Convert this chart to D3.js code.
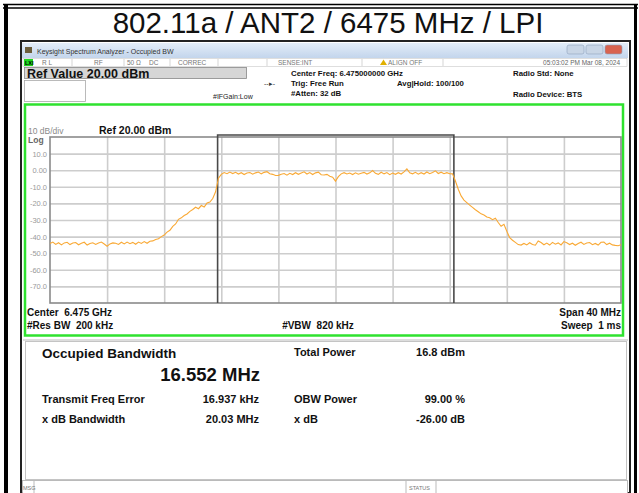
<!DOCTYPE html>
<html>
<head>
<meta charset="utf-8">
<script src="https://cdn.jsdelivr.net/npm/d3@7"></script>
<style>
  html, body { margin: 0; padding: 0; background: #fff; }
  svg { display: block; font-family: "Liberation Sans", Arial, sans-serif; }
</style>
</head>
<body>
<svg id="chart"></svg>
<script>
const width = 639;
const height = 493;

// sweep settings
const centerMHz = 6475;
const spanMHz = 40;
const stepMHz = 0.2;
const refLevel = 20;
const dbPerDiv = 10;

// trace, dBm, one point per 0.2 MHz from 6455 to 6495 MHz
const lowerBand = [
  -44.2, -43.3, -44.7, -43.7, -45.0, -43.8, -43.4, -44.8, -43.9, -43.6,
  -44.9, -44.0, -43.4, -45.1, -44.1, -43.7, -44.7, -43.8, -43.3, -44.5,
  -45.8, -44.4, -43.8, -44.0, -44.7, -43.4, -44.4, -43.3, -44.3, -43.5,
  -44.6, -43.3, -44.1, -43.0, -44.0, -42.8, -42.6, -41.7, -41.3, -40.0,
  -39.1, -37.3, -36.2, -33.8, -32.4, -29.6, -28.7, -27.3, -26.4, -24.8,
  -23.7, -22.3, -23.2, -21.3, -22.2, -19.8, -19.2, -17.1, -13.0, -4.8
];
const inBand = [
  -2.5, -1.4, -2.1, -1.1, -2.0, -1.3, -2.3, -1.5, -2.6, -1.7,
  -1.4, -2.4, -1.6, -1.1, -2.2, -1.3, -0.9, -2.1, -2.5, -3.2,
  -3.1, -2.4, -2.0, -3.0, -1.9, -2.6, -1.5, -2.5, -1.7, -1.0,
  -2.3, -1.4, -2.6, -1.6, -1.2, -2.7, -2.9, -2.5, -3.6, -4.2,
  -6.6, -3.9, -2.2, -1.5, -2.3, -1.7, -2.6, -1.6, -2.4, -1.8,
  -1.3, -2.3, -1.6, -0.2, -1.9, -2.5, -1.2, -2.2, -1.4, -2.7,
  -1.7, -2.5, -1.5, -2.3, -1.0, 0.8, -1.6, -2.2, -1.3, -2.4,
  -1.5, -2.3, -1.1, -2.1, -1.4, -0.4, -2.0, -1.2, -2.1, -1.5, -2.1
];
const upperBand = [
  -2.2, -6.5, -11.5, -15.5, -18.0, -19.5, -21.0, -22.4, -23.8, -25.0,
  -26.3, -27.0, -28.2, -28.6, -29.8, -28.9, -31.5, -33.8, -32.6, -36.8,
  -40.6, -42.2, -43.5, -44.8, -45.1, -44.1, -45.0, -43.7, -44.8, -45.2,
  -42.6, -43.6, -44.9, -43.9, -45.1, -43.5, -44.6, -43.8, -45.0, -43.0,
  -43.7, -44.8, -44.0, -45.2, -44.2, -43.4, -44.7, -43.9, -43.6, -44.9,
  -44.1, -45.1, -43.4, -43.3, -44.8, -44.0, -45.0, -45.3, -45.5, -44.9
];

const yTickValues = [10, 0, -10, -20, -30, -40, -50, -60, -70];
const yTickLabels = ['10.0', '0.00', '-10.0', '-20.0', '-30.0', '-40.0', '-50.0', '-60.0', '-70.0'];

// measurement results
const obwMHz = 16.552;
const freqErrorKHz = 16.937;
const results = [
  ['Transmit Freq Error', '16.937 kHz', 'OBW Power', '99.00 %'],
  ['x dB Bandwidth', '20.03 MHz', 'x dB', '-26.00 dB']
];

const statusCells = [
  ['R L', 42], ['RF', 94], ['50 Ω', 127], ['DC', 149], ['CORREC', 178], ['SENSE:INT', 278]
];
const statusSeps = [72, 124, 170, 218, 267, 362, 443];

const svg = d3.select('#chart').attr('width', width).attr('height', height);

// page frame
svg.append('rect').attr('width', width).attr('height', height).attr('fill', '#fff');
svg.append('line').attr('x1', 3).attr('x2', 638).attr('y1', 4.5).attr('y2', 4.5).attr('stroke', '#000').attr('stroke-width', 1.5);
svg.append('line').attr('x1', 3).attr('x2', 638).attr('y1', 8).attr('y2', 8).attr('stroke', '#000').attr('stroke-width', 1.5);
svg.append('rect').attr('x', 4).attr('y', 4).attr('width', 4).attr('height', height).attr('fill', '#000');
svg.append('rect').attr('x', 634).attr('y', 4).attr('width', 3).attr('height', height).attr('fill', '#000');

svg.append('text')
  .attr('x', 328).attr('y', 33)
  .attr('text-anchor', 'middle')
  .attr('font-size', 29.5)
  .attr('fill', '#111')
  .text('802.11a / ANT2 / 6475 MHz / LPI');

// analyzer window
const win = svg.append('g');
win.append('rect').attr('x', 21).attr('y', 41).attr('width', 609).attr('height', 452).attr('fill', '#fff').attr('stroke', '#222').attr('stroke-width', 2);

const grad = svg.append('defs').append('linearGradient').attr('id', 'tb').attr('x1', 0).attr('x2', 0).attr('y1', 0).attr('y2', 1);
grad.append('stop').attr('offset', 0).attr('stop-color', '#e3edf8');
grad.append('stop').attr('offset', 1).attr('stop-color', '#c3d5ec');
win.append('rect').attr('x', 22).attr('y', 43).attr('width', 606).attr('height', 15).attr('fill', 'url(#tb)');
win.append('rect').attr('x', 25).attr('y', 47).attr('width', 7).attr('height', 6).attr('fill', '#6b5d3a');
win.append('text').attr('x', 37).attr('y', 54).attr('font-size', 7).attr('fill', '#333').text('Keysight Spectrum Analyzer - Occupied BW');
[[567, '#c9d6e6'], [586, '#c9d6e6'], [605, '#d9634f']].forEach(([bx, c]) => {
  win.append('rect').attr('x', bx).attr('y', 45).attr('width', 17).attr('height', 9).attr('rx', 2)
    .attr('fill', c).attr('stroke', '#8ea2bd').attr('stroke-width', 0.6);
});

// status row
win.append('rect').attr('x', 23).attr('y', 58.5).attr('width', 604).attr('height', 8).attr('fill', '#fff').attr('stroke', '#c8c8c8').attr('stroke-width', 0.6);
win.append('rect').attr('x', 24).attr('y', 59).attr('width', 9).attr('height', 7).attr('fill', '#1fd81f');
win.append('text').attr('x', 25).attr('y', 65).attr('font-size', 5.5).attr('font-weight', 'bold').attr('fill', '#000').text('LXI');
statusSeps.forEach(sx => win.append('line').attr('x1', sx).attr('x2', sx).attr('y1', 59).attr('y2', 66).attr('stroke', '#bbb').attr('stroke-width', 0.6));
statusCells.forEach(([t, sx]) => win.append('text').attr('x', sx).attr('y', 65).attr('font-size', 6.5).attr('fill', '#777').text(t));
win.append('path').attr('d', 'M380,65 L383.5,59.5 L387,65 Z').attr('fill', '#e0b000');
win.append('text').attr('x', 388).attr('y', 65).attr('font-size', 6.5).attr('fill', '#777').text('ALIGN OFF');
win.append('text').attr('x', 620).attr('y', 65).attr('text-anchor', 'end').attr('font-size', 6.5).attr('fill', '#666').text('05:03:02 PM Mar 08, 2024');

// settings area
win.append('rect').attr('x', 24.5).attr('y', 67.5).attr('width', 222).attr('height', 11).attr('fill', '#d6d6d6').attr('stroke', '#888').attr('stroke-width', 0.8);
win.append('text').attr('x', 27).attr('y', 77.5).attr('font-size', 12.5).attr('font-weight', 'bold').attr('fill', '#111').text('Ref Value 20.00 dBm');
win.append('rect').attr('x', 24.5).attr('y', 80.5).attr('width', 61).attr('height', 21).attr('fill', '#fff').attr('stroke', '#aaa').attr('stroke-width', 0.8);
win.append('text').attr('x', 213).attr('y', 99).attr('font-size', 7).attr('fill', '#222').text('#IFGain:Low');
win.append('text').attr('x', 264).attr('y', 86).attr('font-size', 7).attr('fill', '#333').text('--\u25B8-');

const hdr = [
  ['Center Freq: 6.475000000 GHz', 291, 76],
  ['Trig: Free Run', 291, 86],
  ['#Atten: 32 dB', 291, 96],
  ['Avg|Hold: 100/100', 397, 86],
  ['Radio Std: None', 513, 76],
  ['Radio Device: BTS', 513, 97]
];
hdr.forEach(([t, hx, hy]) => win.append('text').attr('x', hx).attr('y', hy).attr('font-size', 7.8).attr('font-weight', 'bold').attr('fill', '#111').text(t));

// graph frame
win.append('rect').attr('x', 25).attr('y', 104.5).attr('width', 598).attr('height', 231).attr('fill', '#fff').attr('stroke', '#2fe22f').attr('stroke-width', 2.5);

const plotLeft = 50, plotRight = 621, plotTop = 137, plotBottom = 303;
const x = d3.scaleLinear().domain([centerMHz - spanMHz / 2, centerMHz + spanMHz / 2]).range([plotLeft, plotRight]);
const y = d3.scaleLinear().domain([refLevel - 10 * dbPerDiv, refLevel]).range([plotBottom, plotTop]);

const xGrid = d3.range(1, 10).map(i => centerMHz - spanMHz / 2 + i * spanMHz / 10);

const plot = win.append('g');
plot.append('g')
  .attr('transform', `translate(${plotLeft},0)`)
  .call(d3.axisLeft(y).tickValues(yTickValues).tickFormat((d, i) => yTickLabels[i]).tickSize(-(plotRight - plotLeft)).tickPadding(3))
  .call(g => g.select('.domain').remove())
  .call(g => g.selectAll('.tick line').attr('stroke', '#cdcdcd').attr('stroke-width', 1.6))
  .call(g => g.selectAll('.tick text').attr('fill', '#9a9a9a').attr('font-size', 7.5).attr('font-family', '"Liberation Sans", Arial, sans-serif'));

plot.append('g')
  .attr('transform', `translate(0,${plotBottom})`)
  .call(d3.axisBottom(x).tickValues(xGrid).tickFormat('').tickSize(-(plotBottom - plotTop)))
  .call(g => g.select('.domain').remove())
  .call(g => g.selectAll('.tick line').attr('stroke', '#cdcdcd').attr('stroke-width', 1.6));

plot.append('rect')
  .attr('x', plotLeft).attr('y', plotTop).attr('width', plotRight - plotLeft).attr('height', plotBottom - plotTop)
  .attr('fill', 'none').attr('stroke', '#8a8a8a').attr('stroke-width', 1.6);

// OBW markers
const obwCenter = centerMHz + freqErrorKHz / 1000;
const obwL = x(obwCenter - obwMHz / 2), obwR = x(obwCenter + obwMHz / 2);
plot.append('path')
  .attr('d', `M${obwL},${plotBottom} V${plotTop - 2} H${obwR} V${plotBottom}`)
  .attr('fill', 'none').attr('stroke', '#4a4a4a').attr('stroke-width', 1.6);

// trace
const levels = lowerBand.concat(inBand, upperBand);
const trace = levels.map((v, i) => ({ f: centerMHz - spanMHz / 2 + i * stepMHz, v: v }));
plot.append('path')
  .datum(trace)
  .attr('fill', 'none')
  .attr('stroke', '#f9a935')
  .attr('stroke-width', 1.1)
  .attr('d', d3.line().x(d => x(d.f)).y(d => y(d.v)));

// graph labels
win.append('text').attr('x', 28).attr('y', 134).attr('font-size', 8.5).attr('fill', '#8a8a8a').text('10 dB/div');
win.append('text').attr('x', 28).attr('y', 143).attr('font-size', 8.5).attr('font-weight', 'bold').attr('fill', '#666').text('Log');
win.append('text').attr('x', 99).attr('y', 134).attr('font-size', 10.5).attr('font-weight', 'bold').attr('fill', '#111').text('Ref 20.00 dBm');

const foot = [
  ['Center  6.475 GHz', 27, 316, 'start'],
  ['#Res BW  200 kHz', 27, 329, 'start'],
  ['#VBW  820 kHz', 318, 329, 'middle'],
  ['Span 40 MHz', 621, 316, 'end'],
  ['Sweep  1 ms', 621, 329, 'end']
];
foot.forEach(([t, fx, fy, a]) => win.append('text').attr('x', fx).attr('y', fy).attr('text-anchor', a)
  .attr('font-size', 10).attr('font-weight', 'bold').attr('fill', '#111').attr('xml:space', 'preserve').text(t));

// results panel
win.append('line').attr('x1', 23).attr('x2', 628).attr('y1', 340).attr('y2', 340).attr('stroke', '#bbb').attr('stroke-width', 1);
win.append('rect').attr('x', 25.5).attr('y', 341.5).attr('width', 601).attr('height', 138).attr('fill', '#fff').attr('stroke', '#c4c4c4').attr('stroke-width', 1);

win.append('text').attr('x', 42).attr('y', 358).attr('font-size', 13.5).attr('font-weight', 'bold').attr('fill', '#111').text('Occupied Bandwidth');
win.append('text').attr('x', 260).attr('y', 381).attr('text-anchor', 'end').attr('font-size', 18.5).attr('font-weight', 'bold').attr('fill', '#111').text(obwMHz.toFixed(3) + ' MHz');
win.append('text').attr('x', 294).attr('y', 356).attr('font-size', 11).attr('font-weight', 'bold').attr('fill', '#111').text('Total Power');
win.append('text').attr('x', 465).attr('y', 356).attr('text-anchor', 'end').attr('font-size', 11).attr('font-weight', 'bold').attr('fill', '#111').text('16.8 dBm');

results.forEach((r, i) => {
  const ry = 403 + i * 20;
  win.append('text').attr('x', 42).attr('y', ry).attr('font-size', 11).attr('font-weight', 'bold').attr('fill', '#111').text(r[0]);
  win.append('text').attr('x', 259).attr('y', ry).attr('text-anchor', 'end').attr('font-size', 11).attr('font-weight', 'bold').attr('fill', '#111').text(r[1]);
  win.append('text').attr('x', 294).attr('y', ry).attr('font-size', 11).attr('font-weight', 'bold').attr('fill', '#111').text(r[2]);
  win.append('text').attr('x', 465).attr('y', ry).attr('text-anchor', 'end').attr('font-size', 11).attr('font-weight', 'bold').attr('fill', '#111').text(r[3]);
});

// message bar
win.append('rect').attr('x', 22.5).attr('y', 480.5).attr('width', 605).attr('height', 13).attr('fill', '#fff').attr('stroke', '#aaa').attr('stroke-width', 0.8);
[34, 406, 436].forEach(sx => win.append('line').attr('x1', sx).attr('x2', sx).attr('y1', 481).attr('y2', 493).attr('stroke', '#aaa').attr('stroke-width', 0.8));
win.append('text').attr('x', 23).attr('y', 490).attr('font-size', 5.5).attr('fill', '#777').text('MSG');
win.append('text').attr('x', 409).attr('y', 490).attr('font-size', 5.5).attr('fill', '#777').text('STATUS');
</script>
</body>
</html>
